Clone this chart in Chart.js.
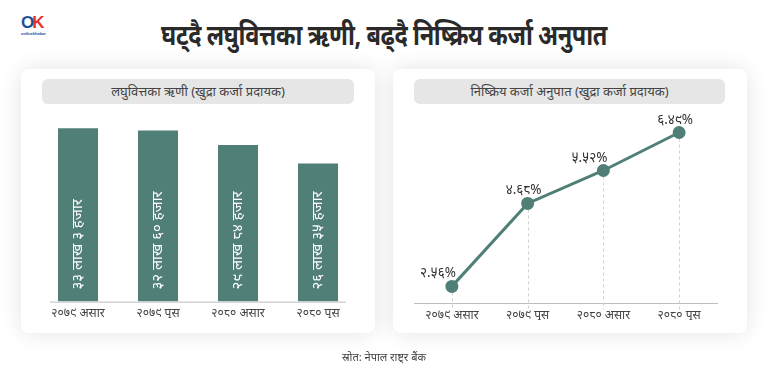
<!DOCTYPE html>
<html lang="ne">
<head>
<meta charset="UTF-8">
<title>घट्दै लघुवित्तका ऋणी, बढ्दै निष्क्रिय कर्जा अनुपात</title>
<script src="https://cdn.jsdelivr.net/npm/chart.js@4/dist/chart.umd.min.js"></script>
<style>
  html, body { margin: 0; padding: 0; }
  body { width: 768px; height: 375px; background: #fff; position: relative; overflow: hidden;
         font-family: "Noto Sans", sans-serif; color: #333; }
  .logo { position: absolute; left: 21px; top: 14px; width: 30px; }
  .logo .ok { font: 900 17px/17px "Liberation Sans", Arial, sans-serif; letter-spacing: -2px; }
  .logo .o { color: #1d4f9c; }
  .logo .k { color: #e5322d; }
  .logo .sub { font: 700 4px/5px "Liberation Sans", sans-serif; color: #1d4f9c; }
  h1 { position: absolute; left: 0; top: 13px; width: 768px; margin: 0; text-align: center;
       font-size: 28px; font-weight: 700; color: #2a2a2a; line-height: 42px; letter-spacing: -0.5px;
       transform: scaleX(0.84); transform-origin: 384px 0; }
  .card { position: absolute; top: 69px; width: 354px; height: 264px; background: #fff; border-radius: 8px;
          box-shadow: 0 0 22px rgba(0,0,0,0.11); }
  .pill { position: absolute; left: 21px; top: 10px; width: 312px; height: 25px; background: #e6e6e6;
          border-radius: 6px; text-align: center; font-size: 13px; line-height: 25px; color: #444; }
  .card canvas { position: absolute; left: 0; top: 41px; }
  .source { position: absolute; left: 0; top: 349px; width: 768px; text-align: center; font-size: 11px; color: #444; }
</style>
</head>
<body>
<div class="logo"><div class="ok"><span class="o">O</span><span class="k">K</span></div><div class="sub">onlinekhabar</div></div>
<h1>घट्दै लघुवित्तका ऋणी, बढ्दै निष्क्रिय कर्जा अनुपात</h1>

<div class="card" style="left:21px">
  <div class="pill">लघुवित्तका ऋणी (खुद्रा कर्जा प्रदायक)</div>
  <canvas id="borrowers" width="354" height="208"></canvas>
</div>
<div class="card" style="left:393px">
  <div class="pill" style="width:311px">निष्क्रिय कर्जा अनुपात (खुद्रा कर्जा प्रदायक)</div>
  <canvas id="npl" width="354" height="210"></canvas>
</div>
<div class="source">स्रोत: नेपाल राष्ट्र बैंक</div>

<script>
// data
const periods = ['२०७९ असार', '२०७९ पुस', '२०८० असार', '२०८० पुस'];
const borrowers = [3303000, 3260000, 2984000, 2635000];
const nplRatio = [2.56, 4.68, 5.52, 6.49];

const green = '#4f7f77';
const devDigits = '०१२३४५६७८९';
function nep(s) { return String(s).replace(/[0-9]/g, d => devDigits[d]); }
function lakhHajar(n) {
  return nep(Math.floor(n / 100000)) + ' लाख ' + nep(Math.floor((n % 100000) / 1000)) + ' हजार';
}

const tickFont = { family: '"Noto Sans", sans-serif', size: 12 };

// bar chart: text inside the bars and a short baseline
const barLabels = {
  id: 'barLabels',
  afterDatasetsDraw(chart) {
    const ctx = chart.ctx, y0 = chart.scales.y.getPixelForValue(0);
    ctx.save();
    ctx.strokeStyle = '#bdbdbd'; ctx.lineWidth = 1;
    ctx.beginPath();
    ctx.moveTo(chart.chartArea.left + 12, y0 + 0.5);
    ctx.lineTo(chart.chartArea.right - 12, y0 + 0.5);
    ctx.stroke();
    ctx.fillStyle = '#fff';
    ctx.font = '15px "Noto Sans", sans-serif';
    ctx.textAlign = 'left'; ctx.textBaseline = 'middle';
    chart.getDatasetMeta(0).data.forEach((bar, i) => {
      ctx.save();
      ctx.translate(bar.x, y0 - 12);
      ctx.rotate(-Math.PI / 2);
      ctx.fillText(lakhHajar(borrowers[i]), 0, 0);
      ctx.restore();
    });
    ctx.restore();
  }
};

new Chart(document.getElementById('borrowers'), {
  type: 'bar',
  data: { labels: periods, datasets: [{ data: borrowers, backgroundColor: green, barPercentage: 0.5, categoryPercentage: 1 }] },
  options: {
    animation: false, responsive: false,
    layout: { padding: { left: 17, right: 17, top: 8 } },
    plugins: { legend: { display: false }, tooltip: { enabled: false } },
    scales: {
      x: { grid: { display: false }, border: { display: false },
           ticks: { color: '#444', font: tickFont, padding: -3, maxRotation: 0 } },
      y: { display: false, min: 0, max: 3500000 }
    }
  },
  plugins: [barLabels]
});

// line chart: dashed drop lines and value labels
const labelAlign = ['right', 'center', 'right', 'center'];
const lineDeco = {
  id: 'lineDeco',
  beforeDatasetsDraw(chart) {
    const ctx = chart.ctx, bottom = chart.chartArea.bottom;
    ctx.save();
    ctx.strokeStyle = '#cfcfcf'; ctx.lineWidth = 1; ctx.setLineDash([3, 3]);
    chart.getDatasetMeta(0).data.forEach(p => {
      ctx.beginPath();
      ctx.moveTo(Math.round(p.x) + 0.5, p.y);
      ctx.lineTo(Math.round(p.x) + 0.5, bottom + 6);
      ctx.stroke();
    });
    ctx.restore();
  },
  afterDatasetsDraw(chart) {
    const ctx = chart.ctx;
    ctx.save();
    ctx.fillStyle = '#333';
    ctx.font = '13.5px "Noto Sans", sans-serif';
    ctx.textBaseline = 'bottom';
    chart.getDatasetMeta(0).data.forEach((p, i) => {
      const a = labelAlign[i];
      ctx.textAlign = a;
      ctx.fillText(nep(nplRatio[i].toFixed(2)) + '%', a === 'right' ? p.x + 4 : p.x - 4, p.y - 6);
    });
    ctx.restore();
  }
};

new Chart(document.getElementById('npl'), {
  type: 'line',
  data: { labels: periods, datasets: [{ data: nplRatio, borderColor: green, borderWidth: 3,
          pointBackgroundColor: green, pointBorderColor: green, pointRadius: 5, tension: 0 }] },
  options: {
    animation: false, responsive: false,
    layout: { padding: { left: 21, right: 30, top: 10 } },
    plugins: { legend: { display: false }, tooltip: { enabled: false } },
    scales: {
      x: { offset: true, grid: { display: false }, border: { color: '#bdbdbd' },
           ticks: { color: '#444', font: tickFont, padding: -3, maxRotation: 0 } },
      y: { display: false, min: 2.12, max: 6.81 }
    }
  },
  plugins: [lineDeco]
});
</script>
</body>
</html>
